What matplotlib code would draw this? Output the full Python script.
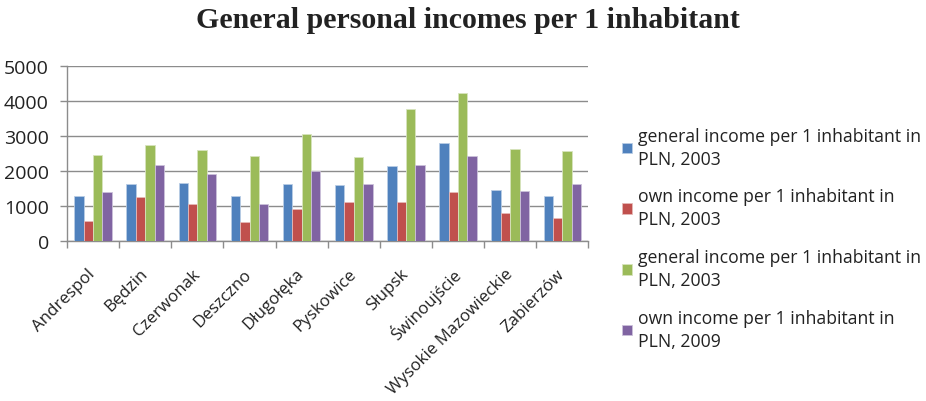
import numpy as np
import matplotlib.pyplot as plt

towns = ['Andrespol', 'Będzin', 'Czerwonak', 'Deszczno', 'Długołęka',
         'Pyskowice', 'Słupsk', 'Świnoujście', 'Wysokie Mazowieckie', 'Zabierzów']

general_2003 = [1270, 1630, 1660, 1270, 1630, 1600, 2130, 2790, 1460, 1270]
own_2003 = [550, 1240, 1040, 520, 900, 1090, 1090, 1380, 800, 650]
general_2003b = [2440, 2740, 2580, 2410, 3040, 2380, 3770, 4220, 2630, 2570]
own_2009 = [1380, 2160, 1900, 1040, 2000, 1630, 2160, 2410, 1430, 1630]

series = [general_2003, own_2003, general_2003b, own_2009]
labels = ['general income per 1 inhabitant in\nPLN, 2003',
          'own income per 1 inhabitant in\nPLN, 2003',
          'general income per 1 inhabitant in\nPLN, 2003',
          'own income per 1 inhabitant in\nPLN, 2009']
colors = ['#4F81BD', '#C0504D', '#9BBB59', '#8064A2']
edges = ['#B9CDE5', '#E6B9B8', '#D7E4BD', '#CCC1DA']

plt.rcParams['font.family'] = ['Open Sans', 'DejaVu Sans']

fig = plt.figure(figsize=(9.26, 4.02), dpi=100)
ax = fig.add_axes([0.0724, 0.399, 0.5630, 0.435])

x = np.arange(len(towns))
w = 0.18
for i, (vals, lab, c, ec) in enumerate(zip(series, labels, colors, edges)):
    ax.bar(x + (i - 1.5) * w, vals, w, color=c, edgecolor=ec, linewidth=0.6,
           label=lab, zorder=3)

ax.set_xlim(-0.5, len(towns) - 0.5)
ax.set_ylim(0, 5000)
ax.set_yticks(range(0, 5001, 1000))
ax.yaxis.grid(True, color='#8C8C8C', linewidth=1.0, zorder=0)
ax.tick_params(axis='y', length=5, width=1, color='#8C8C8C', labelsize=14,
               labelcolor='#222222', pad=8)

ax.set_xticks(x)
ax.set_xticklabels(towns, rotation=45, ha='right', va='center',
                   rotation_mode='anchor', fontsize=12.2, color='#222222')
ax.tick_params(axis='x', length=0, pad=22)
ax.set_xticks(np.arange(-0.5, len(towns)), minor=True)
ax.tick_params(axis='x', which='minor', length=5, color='#8C8C8C', width=1)

for s in ['top', 'right']:
    ax.spines[s].set_visible(False)
for s in ['left', 'bottom']:
    ax.spines[s].set_color('#8C8C8C')
    ax.spines[s].set_linewidth(1.0)

leg = fig.legend(loc='center left', bbox_to_anchor=(0.672, 0.405),
                 bbox_transform=fig.transFigure, frameon=False,
                 fontsize=12.7, handlelength=0.57, handleheight=0.57,
                 handletextpad=0.3, labelspacing=1.12, borderpad=0,
                 borderaxespad=0, labelcolor='#222222')
for t in leg.get_texts():
    t.set_linespacing(1.35)

fig.text(0.505, 0.948, 'General personal incomes per 1 inhabitant',
         ha='center', va='center', fontsize=21.5, fontweight='bold',
         family='Liberation Serif', color='#222222')

fig.savefig('out.png', dpi=100)
